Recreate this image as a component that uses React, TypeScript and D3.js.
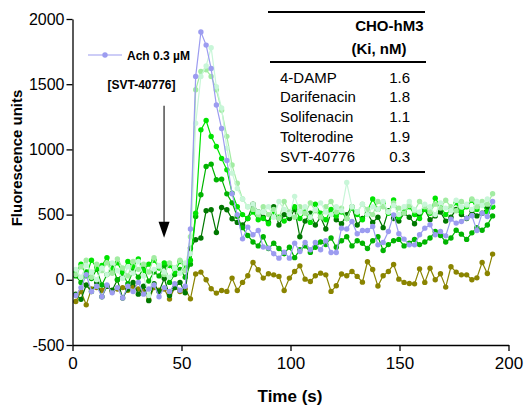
import { useEffect, useRef } from 'react';
import * as d3 from 'd3';

// sample times (s)
const TIME = [
  1.5, 3.9, 6.3, 8.7, 11.1, 13.5, 15.8, 18.2, 20.6, 23.0, 25.4, 27.8, 30.2, 32.6, 35.0, 37.4, 39.7, 42.1, 44.5, 46.9,
  49.3, 51.7, 54.1, 56.5, 58.9, 61.3, 63.6, 66.0, 68.4, 70.8, 73.2, 75.6, 78.0, 80.4, 82.8, 85.2, 87.5, 89.9, 92.3, 94.7,
  97.1, 99.5, 101.9, 104.3, 106.7, 109.1, 111.4, 113.8, 116.2, 118.6, 121.0, 123.4, 125.8, 128.2, 130.6, 133.0, 135.3, 137.7, 140.1, 142.5,
  144.9, 147.3, 149.7, 152.1, 154.5, 156.9, 159.2, 161.6, 164.0, 166.4, 168.8, 171.2, 173.6, 176.0, 178.4, 180.8, 183.2, 185.5, 187.9, 190.3,
  192.7,
];

const OLIVE = [
  -166, -90, -192, -70, -60, -80, -50, -90, -70, -60, -80, -50, -70, -90, -153, -60, -80, -70, -148, -60,
  -90, -70, -146, 44, 59, 0, -69, -102, -82, -89, 13, -82, -20, 31, 133, 77, 13, 46, 38, 26,
  -82, 13, 64, 107, 5, -13, 31, 51, 38, -89, -46, 44, 31, 64, 26, -18, 138, 79, -48, 31,
  64, 117, 5, -20, -28, -31, 84, -20, 89, 0, 46, -56, 100, 59, 38, 38, 0, 15, 133, 48,
  197,
];

const DARK = [
  -110, -150, -40, -90, -20, -130, -50, -80, 0, -140, -70, -20, -110, -50, -160, -30, -90, 10, -120, -60,
  -20, -100, 243, 307, 320, 529, 537, 363, 554, 537, 468, 440, 420, 470, 580, 520,
  480, 440, 560, 420, 500, 470, 540, 330, 450, 510, 420, 480, 390, 520, 460, 430, 500, 560, 420, 470,
  510, 440, 480, 400, 530, 470, 450, 510, 480, 430, 500, 540, 460, 490, 520, 450, 480, 540, 500, 470,
  530, 490, 510, 550, 560,
];

const MEDIUM = [
  30, -20, 60, 10, 80, -40, 40, 100, 0, 50, -30, 70, 20, 90, -10, 60, 30, 110, -20, 40,
  80, 20, 120, 486, 652, 869, 887, 767, 772, 659, 590, 486, 400, 340, 290, 260,
  330, 240, 280, 240, 200, 250, 170, 230, 260, 210, 250, 290, 270, 320, 250, 300, 330, 260, 300, 280,
  240, 300, 330, 225, 270, 300, 310, 260, 280, 310, 270, 290, 320, 370, 340, 290, 320, 380, 350, 310,
  360, 400, 380, 420, 490,
];

const BRIGHT = [
  60, 120, 30, 150, 90, 110, 170, 80, 130, 60, 140, 100, 160, 70, 120, 150, 90, 130, 110, 60,
  140, 100, 150, 511, 1150, 1222, 1099, 1022, 930, 843, 665, 560, 500, 470, 520, 460,
  470, 430, 520, 480, 450, 500, 560, 470, 520, 440, 580, 510, 460, 540, 490, 520, 470, 550, 500, 460,
  530, 620, 540, 590, 510, 613, 480, 520, 560, 500, 470, 540, 510, 626, 560, 500, 540, 590, 520, 560,
  610, 540, 580, 520, 560,
];

const LIGHT = [
  40, 100, 150, 20, 120, 70, 130, 50, 160, 90, 30, 140, 80, 120, 60, 170, 100, 40, 130, 90,
  150, 70, 330, 1457, 1597, 1610, 1560, 1457, 1300, 1100, 880, 740, 620, 560, 540, 500,
  560, 500, 540, 470, 600, 520, 480, 560, 510, 590, 530, 480, 560, 600, 520, 550, 470, 560, 520, 580,
  540, 500, 600, 560, 520, 590, 550, 510, 570, 530, 600, 560, 520, 580, 550, 610, 560, 530, 600, 570,
  620, 560, 600, 580, 660,
];

const MINT = [
  80, 20, 110, 60, 0, 90, 40, 130, 70, 10, 100, 50, 140, 30, -120, 80, 110, 60, 20, 90,
  50, 130, 200, 1200, 1560, 1640, 1780, 1480, 1317, 1010, 818, 700, 620, 560, 580, 520,
  520, 560, 480, 600, 540, 500, 640, 520, 560, 480, 540, 590, 520, 500, 560, 530, 746, 560, 520, 580,
  500, 560, 540, 600, 520, 570, 500, 560, 600, 540, 520, 580, 560, 500, 590, 550, 530, 610, 560, 580,
  540, 600, 570, 620, 590,
];

const ACH = [
  -120, -60, 40, -90, -50, -130, -40, -100, -60, -140, -50, -90, -20, -110, -70, -40, -130, -60, -90, -30,
  -80, -50, 390, 1560, 1900, 1800, 1620, 1340, 1160, 915, 660, 500, 314, 404, 345, 378,
  251, 243, 200, 166, 212, 166, 281, 217, 286, 230, 286, 230, 299, 209, 209, 396, 389, 447, 353, 378,
  378, 409, 268, 286, 370, 498, 353, 312, 268, 268, 345, 396, 422, 345, 370, 337, 465, 435, 447, 473,
  491, 378, 511, 486, 600,
];

const SERIES = [
  { name: 'SVT-40776', color: '#8a8400', values: OLIVE },
  { name: 'dark', color: '#007800', values: DARK },
  { name: 'medium', color: '#00b400', values: MEDIUM },
  { name: 'bright', color: '#00e400', values: BRIGHT },
  { name: 'light', color: '#a2eca2', values: LIGHT },
  { name: 'mint', color: '#c8f6d8', values: MINT },
  { name: 'Ach 0.3 µM', color: '#9c9cf0', values: ACH },
];

const X_TICKS = [0, 50, 100, 150, 200];
const Y_TICKS = [-500, 0, 500, 1000, 1500, 2000];

const DRUGS = ['4-DAMP', 'Darifenacin', 'Solifenacin', 'Tolterodine', 'SVT-40776'];
const KI = ['1.6', '1.8', '1.1', '1.9', '0.3'];

// arrow marks SVT-40776 addition
const ARROW_TIME = 42;
const ARROW_FROM = 1334;
const ARROW_TO = 322;

const FONT = '"Liberation Sans", Arial, sans-serif';

export default function App() {
  const svgRef = useRef(null);

  useEffect(() => {
    const svg = d3.select(svgRef.current);
    svg.selectAll('*').remove();

    const x = d3.scaleLinear().domain([0, 200]).range([72.5, 508.5]);
    const y = d3.scaleLinear().domain([-500, 2000]).range([345, 19]);

    const g = svg.append('g');

    // series
    const line = d3.line<number>().x((_, i) => x(TIME[i])).y(d => y(d));
    SERIES.forEach(s => {
      g.append('path').datum(s.values).attr('d', line).attr('fill', 'none').attr('stroke', s.color).attr('stroke-width', 1.2);
      g.selectAll(null).data(s.values).enter().append('circle')
        .attr('cx', (_, i) => x(TIME[i])).attr('cy', d => y(d)).attr('r', 2.7).attr('fill', s.color);
    });

    // axes
    const styleAxis = (ax, size) => {
      ax.select('.domain').attr('stroke', '#000').attr('stroke-width', 1.3);
      ax.selectAll('.tick line').attr('stroke', '#000').attr('stroke-width', 1.3);
      ax.selectAll('.tick text').attr('fill', '#000').attr('font-size', size).attr('font-family', FONT);
    };
    g.append('g').attr('transform', 'translate(0,345)')
      .call(d3.axisBottom(x).tickValues(X_TICKS).tickFormat(d => String(d)).tickSize(6).tickSizeOuter(0).tickPadding(6))
      .call(ax => styleAxis(ax, 17));
    g.append('g').attr('transform', 'translate(72.5,0)')
      .call(d3.axisLeft(y).tickValues(Y_TICKS).tickFormat(d => String(d)).tickSize(6).tickSizeOuter(0).tickPadding(2))
      .call(ax => styleAxis(ax, 16));

    // axis titles
    svg.append('text').attr('x', 290).attr('y', 402).attr('text-anchor', 'middle')
      .attr('font-family', FONT).attr('font-weight', 'bold').attr('font-size', 17).text('Time (s)');
    svg.append('text').attr('transform', 'translate(22,158) rotate(-90)').attr('text-anchor', 'middle')
      .attr('font-family', FONT).attr('font-weight', 'bold').attr('font-size', 15).text('Fluorescence units');

    // legend
    const ach = SERIES[SERIES.length - 1];
    svg.append('line').attr('x1', 88).attr('x2', 122).attr('y1', 55).attr('y2', 55).attr('stroke', ach.color).attr('stroke-width', 1.2);
    svg.append('circle').attr('cx', 105).attr('cy', 55).attr('r', 2.7).attr('fill', ach.color);
    svg.append('text').attr('x', 127).attr('y', 59.5).attr('font-family', FONT).attr('font-weight', 'bold')
      .attr('font-size', 12).text(ach.name);

    // SVT-40776 arrow
    svg.append('text').attr('x', 141.5).attr('y', 89).attr('text-anchor', 'middle').attr('font-family', FONT)
      .attr('font-weight', 'bold').attr('font-size', 12).text('[SVT-40776]');
    const ax0 = x(ARROW_TIME);
    svg.append('line').attr('x1', ax0).attr('x2', ax0).attr('y1', y(ARROW_FROM)).attr('y2', y(ARROW_TO) - 10)
      .attr('stroke', '#222').attr('stroke-width', 1.2);
    svg.append('path')
      .attr('d', `M${ax0 - 5.5},${y(ARROW_TO) - 16}L${ax0 + 5.5},${y(ARROW_TO) - 16}L${ax0},${y(ARROW_TO)}Z`)
      .attr('fill', '#000');

    // Ki table
    const t = svg.append('g').attr('font-family', FONT).attr('fill', '#000');
    t.append('line').attr('x1', 268).attr('x2', 425).attr('y1', 12).attr('y2', 12).attr('stroke', '#000').attr('stroke-width', 2);
    t.append('line').attr('x1', 270).attr('x2', 426).attr('y1', 62).attr('y2', 62).attr('stroke', '#000').attr('stroke-width', 2);
    t.append('line').attr('x1', 268).attr('x2', 425).attr('y1', 172).attr('y2', 172).attr('stroke', '#000').attr('stroke-width', 2);
    t.append('text').attr('x', 423.5).attr('y', 31).attr('text-anchor', 'end').attr('font-weight', 'bold').attr('font-size', 15).text('CHO-hM3');
    t.append('text').attr('x', 379).attr('y', 54).attr('text-anchor', 'middle').attr('font-weight', 'bold').attr('font-size', 15).text('(Ki, nM)');
    DRUGS.forEach((d, i) => {
      t.append('text').attr('x', 280).attr('y', 82.5 + i * 19.8).attr('font-size', 15).text(d);
      t.append('text').attr('x', 410).attr('y', 82.5 + i * 19.8).attr('text-anchor', 'end').attr('font-size', 15).text(KI[i]);
    });
  }, []);

  return (
    <svg ref={svgRef} width={529} height={409} style={{ position: 'absolute', left: 0, top: 0, background: '#fff' }} />
  );
}
